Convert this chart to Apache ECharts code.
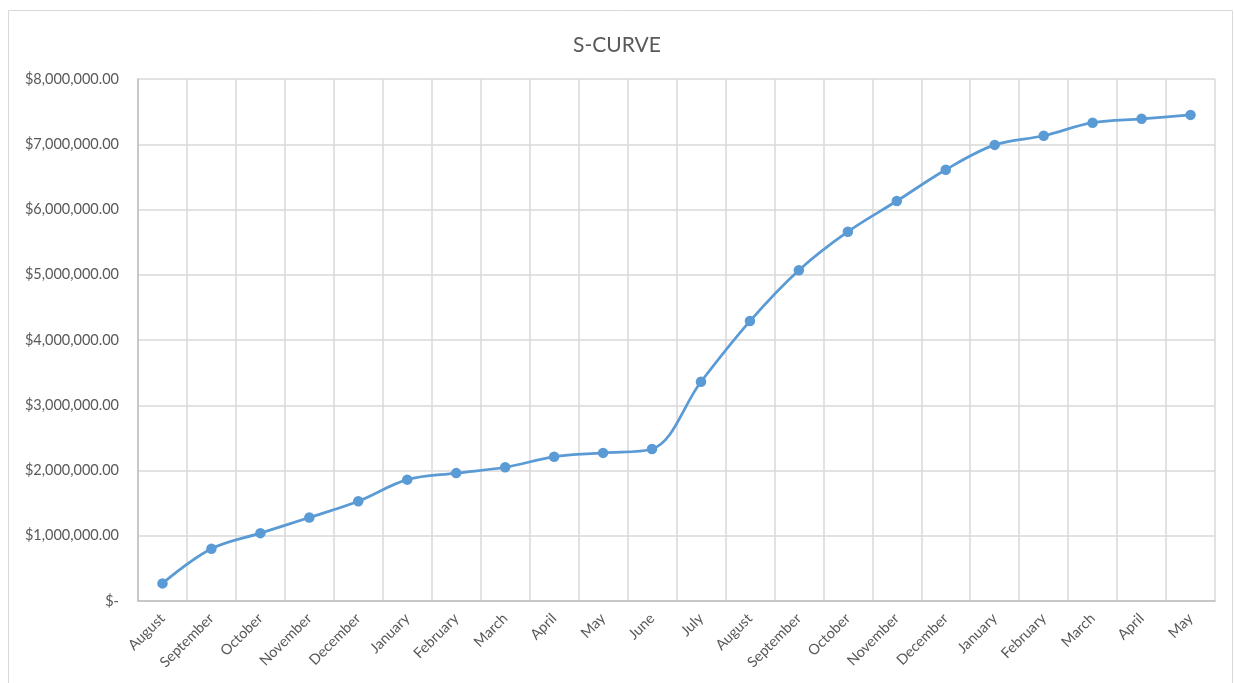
<!DOCTYPE html>
<html><head><meta charset="utf-8">
<script src="https://cdn.jsdelivr.net/npm/echarts@6/dist/echarts.min.js"></script>
<style>html,body{margin:0;padding:0;background:#fff}#c{width:1234px;height:683px}</style>
</head><body><div id="c"></div>
<script>
const categories = ["August","September","October","November","December","January","February","March","April","May","June","July","August","September","October","November","December","January","February","March","April","May"];
const values = [270000,800000,1040000,1280000,1530000,1860000,1960000,2050000,2210000,2270000,2330000,3360000,4290000,5070000,5660000,6130000,6610000,6990000,7130000,7330000,7390000,7450000];
const yTicks = {min:0, max:8000000, interval:1000000};

const chart = echarts.init(document.getElementById('c'));
const fmt = v => v === 0 ? '$-' : '$' + v.toLocaleString('en-US',{minimumFractionDigits:2,maximumFractionDigits:2});
chart.setOption({
  animation:false,
  textStyle:{fontFamily:'Lato, "Open Sans", sans-serif'},
  title:{text:'S-CURVE', left:'center', top:30, textStyle:{fontSize:21, fontWeight:'normal', color:'#595959', fontFamily:'Lato, sans-serif'}},
  graphic:[{type:'rect', shape:{x:8.5,y:10.5,width:1224,height:700}, style:{fill:'none', stroke:'#d9d9d9', lineWidth:1}, silent:true}],
  grid:{left:138, right:19, top:79, bottom:82},
  xAxis:{type:'category', data:categories, boundaryGap:true,
    axisLine:{lineStyle:{color:'#bfbfbf', width:1.5}}, axisTick:{show:false},
    splitLine:{show:true, lineStyle:{color:'#d9d9d9', width:1.5}},
    axisLabel:{rotate:45, color:'#595959', fontSize:14.5, interval:0, margin:15}},
  yAxis:{type:'value', min:yTicks.min, max:yTicks.max, interval:yTicks.interval,
    axisLine:{show:true, lineStyle:{color:'#bfbfbf', width:1.5}}, axisTick:{show:false},
    splitLine:{lineStyle:{color:'#d9d9d9', width:1.5}},
    axisLabel:{formatter:fmt, color:'#595959', fontSize:14.5, margin:19}},
  series:[{type:'line', data:values, smooth:0.35, symbol:'circle', symbolSize:10.5,
    itemStyle:{color:'#5b9bd5'}, lineStyle:{color:'#5b9bd5', width:2.75}}]
});
</script></body></html>
